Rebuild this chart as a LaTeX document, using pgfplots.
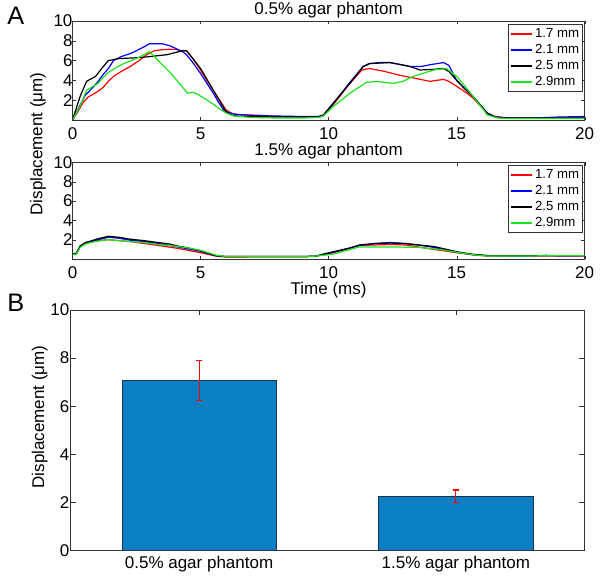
\documentclass[border=0pt]{standalone}
\usepackage{pgfplots}
\pgfplotsset{compat=1.18}
\usepackage{pgfplotstable}
\usepackage{fontspec}
\setmainfont{Liberation Sans}
\definecolor{mred}{rgb}{1,0,0}
\definecolor{mblue}{rgb}{0,0,1}
\definecolor{mgreen}{rgb}{0.1,0.9,0.1}
\definecolor{barblue}{RGB}{12,126,195}
\definecolor{baredge}{RGB}{30,50,75}

\pgfplotstableread{
x y e
1 7.07 0.85
2 2.25 0.26
}\bardata

\pgfplotsset{
  mystyle/.style={
    scale only axis,
    anchor=south west,
    axis line style={black!80},
    tick style={black!80},
    tick align=inside,
    /pgf/number format/assume math mode=true,
    every tick label/.append style={font=\fontsize{12.75}{14}\selectfont},
    title style={anchor=base, yshift=-1pt, font=\fontsize{12.75}{14}\selectfont},
  },
  lineaxis/.style={
    mystyle,
    width=384.15pt,
    xmin=0, xmax=20, ymin=0, ymax=10,
    xtick={0,5,10,15,20},
    ytick={2,4,6,8,10},
    major tick length=2.5pt,
    xticklabel style={yshift=-2pt},
    yticklabel style={xshift=3.5pt},
    legend cell align=left,
    legend style={at={(1,1)}, anchor=north east, xshift=-1.5pt, yshift=-2.25pt,
      font=\fontsize{9.9}{12}\selectfont, draw=black!80, inner sep=1pt,
      row sep=0pt, nodes={inner sep=1.5pt, text height=7.4pt, text depth=1.6pt}},
  },
}

\begin{document}
\begin{tikzpicture}
\useasboundingbox (0,0) rectangle (450pt,432.75pt);

% ---------- Panel A, top ----------
\begin{axis}[lineaxis, at={(54.375pt,342.75pt)}, height=74.25pt,
  title={0.5\% agar phantom},
  legend image code/.code={\draw[#1, line width=1.6pt] (0pt,0pt) -- (16pt,0pt);}]
\addplot[mred, line width=0.9pt] coordinates {(0,0) (0.2,0.8) (0.4,1.7) (0.6,2.3) (0.8,2.6) (1.0,2.9) (1.2,3.3) (1.4,3.9) (1.6,4.4) (1.9,4.9) (2.25,5.4) (2.6,6.0) (2.9,6.6) (3.2,7.0) (3.5,7.1) (3.8,7.15) (4.1,7.1) (4.2,7.0) (4.45,7.0) (4.7,6.2) (5.0,5.05) (5.25,4.0) (5.5,3.0) (5.75,2.0) (6.0,1.0) (6.2,0.7) (6.4,0.55) (7.0,0.5) (7.5,0.45) (8.0,0.35) (9.0,0.3) (9.6,0.3) (9.8,0.5) (10.2,1.6) (10.8,3.6) (11.3,5.05) (11.6,5.2) (12.2,4.9) (12.8,4.5) (13.4,4.2) (13.96,3.9) (14.2,4.0) (14.5,4.1) (14.7,3.9) (15.0,3.4) (15.3,2.9) (15.65,2.2) (16.0,1.2) (16.2,0.7) (16.5,0.35) (17,0.2) (18,0.2) (19,0.2) (20,0.2)};
\addlegendentry{1.7 mm}
\addplot[mblue, line width=0.9pt] coordinates {(0,0) (0.2,1.0) (0.5,2.5) (0.8,3.3) (1.0,3.9) (1.2,4.6) (1.4,5.2) (1.6,6.0) (1.9,6.4) (2.25,6.7) (2.5,7.0) (2.8,7.4) (3.0,7.7) (3.5,7.7) (3.8,7.5) (4.05,7.2) (4.3,6.9) (4.45,6.6) (4.7,5.8) (5.0,4.7) (5.25,3.7) (5.5,2.7) (5.7,1.8) (5.9,1.0) (6.1,0.75) (6.3,0.6) (7.0,0.45) (8.0,0.4) (9.0,0.35) (9.6,0.35) (9.8,0.5) (10.2,1.7) (10.8,3.7) (11.35,5.4) (11.6,5.7) (12.0,5.8) (12.4,5.8) (12.8,5.6) (13.2,5.4) (13.6,5.4) (14.0,5.6) (14.5,5.8) (14.7,5.5) (15.0,4.0) (15.3,3.2) (15.65,2.35) (16.0,1.3) (16.2,0.7) (16.5,0.3) (17,0.2) (18,0.2) (19,0.3) (20,0.35)};
\addlegendentry{2.1 mm}
\addplot[black, line width=0.9pt] coordinates {(0,0) (0.15,1.2) (0.3,2.4) (0.55,3.9) (0.9,4.4) (1.2,5.4) (1.4,6.0) (1.8,6.2) (2.2,6.25) (2.6,6.3) (3.0,6.4) (3.35,6.5) (3.7,6.6) (4.0,6.8) (4.3,7.0) (4.45,7.0) (4.7,6.2) (5.0,5.2) (5.25,4.1) (5.5,3.0) (5.75,1.9) (6.0,0.8) (6.2,0.5) (6.4,0.4) (7.0,0.35) (8.0,0.3) (9.0,0.3) (9.6,0.3) (9.8,0.5) (10.18,1.7) (10.83,3.7) (11.35,5.4) (11.6,5.7) (12.0,5.75) (12.4,5.8) (12.8,5.6) (13.18,5.4) (13.57,5.05) (14.0,5.1) (14.48,5.2) (14.7,4.9) (15.0,4.0) (15.3,3.2) (15.65,2.35) (16.0,1.3) (16.17,0.7) (16.5,0.3) (17,0.2) (18,0.2) (19,0.2) (20,0.2)};
\addlegendentry{2.5 mm}
\addplot[mgreen, line width=0.9pt] coordinates {(0,0) (0.3,1.4) (0.55,3.0) (0.8,3.4) (1.0,3.7) (1.2,4.3) (1.4,4.8) (1.7,5.3) (2.0,5.7) (2.3,6.0) (2.65,6.4) (3.0,6.9) (3.2,6.4) (3.5,5.6) (3.85,4.7) (4.2,3.6) (4.5,2.7) (4.7,2.8) (4.85,2.65) (5.2,2.1) (5.5,1.6) (5.75,1.1) (6.0,0.7) (6.3,0.4) (7.0,0.25) (8.0,0.2) (9.0,0.2) (9.6,0.25) (9.8,0.4) (10.18,1.35) (10.83,2.7) (11.48,3.8) (11.87,3.9) (12.52,3.7) (12.9,3.9) (13.3,4.4) (14.1,5.05) (14.6,5.2) (15.0,4.4) (15.3,3.5) (15.65,2.35) (16.0,1.2) (16.2,0.5) (16.6,0.2) (17,0.15) (18,0.15) (19,0.15) (20,0.15)};
\addlegendentry{2.9mm}
\end{axis}

% ---------- Panel A, bottom ----------
\begin{axis}[lineaxis, at={(54.375pt,238.5pt)}, height=72.5pt,
  title={1.5\% agar phantom},
  legend image code/.code={\draw[#1, line width=1.3pt] (0pt,0pt) -- (16pt,0pt);},
  xlabel={Time (ms)},
  xlabel style={at={(axis description cs:0.5,0)}, anchor=base, yshift=-27pt, font=\fontsize{12.75}{14}\selectfont}]
\addplot[mred, line width=0.9pt] coordinates {(0,0.5) (0.15,0.55) (0.3,1.3) (0.5,1.6) (0.7,1.75) (1.0,1.9) (1.4,2.0) (1.8,1.9) (2.25,1.8) (2.8,1.6) (3.35,1.4) (4.1,1.1) (4.5,0.9) (5.0,0.65) (5.6,0.3) (6,0.2) (7,0.22) (8,0.22) (9,0.22) (9.5,0.28) (10.18,0.65) (11.2,1.4) (12.4,1.5) (13.0,1.45) (13.6,1.2) (14.1,1.0) (15.0,0.65) (15.6,0.45) (16.2,0.3) (17,0.3) (18,0.3) (19,0.3) (20,0.3)};
\addlegendentry{1.7 mm}
\addplot[mblue, line width=0.9pt] coordinates {(0,0.5) (0.15,0.55) (0.3,1.3) (0.5,1.65) (0.7,1.8) (1.0,2.0) (1.4,2.25) (1.8,2.15) (2.25,1.95) (2.8,1.8) (3.35,1.6) (4.1,1.25) (4.5,1.05) (5.0,0.8) (5.3,0.55) (5.6,0.35) (6,0.25) (7,0.25) (8,0.25) (9,0.25) (9.5,0.3) (10.18,0.7) (11.2,1.4) (11.8,1.6) (12.4,1.7) (13.0,1.6) (13.5,1.45) (14.1,1.2) (15.0,0.7) (15.6,0.45) (16.2,0.35) (17.5,0.3) (18.5,0.38) (19,0.33) (20,0.35)};
\addlegendentry{2.1 mm}
\addplot[black, line width=0.9pt] coordinates {(0,0.5) (0.15,0.6) (0.3,1.35) (0.5,1.7) (0.7,1.85) (1.0,2.1) (1.4,2.35) (1.8,2.25) (2.25,2.05) (2.8,1.9) (3.35,1.7) (3.8,1.55) (4.1,1.35) (4.5,1.15) (5.0,0.85) (5.3,0.6) (5.6,0.35) (6.0,0.25) (7,0.25) (8,0.25) (9,0.25) (9.5,0.3) (10.18,0.75) (10.8,1.1) (11.2,1.45) (11.8,1.6) (12.4,1.65) (13.0,1.6) (13.5,1.45) (14.1,1.3) (14.6,1.0) (15.0,0.75) (15.6,0.5) (16.2,0.35) (17,0.35) (18,0.35) (19,0.35) (20,0.35)};
\addlegendentry{2.5 mm}
\addplot[mgreen, line width=0.9pt] coordinates {(0,0.45) (0.15,0.5) (0.3,1.2) (0.5,1.55) (0.7,1.7) (1.0,1.85) (1.4,2.0) (1.8,1.9) (2.25,1.8) (2.8,1.7) (3.35,1.5) (4.1,1.3) (4.5,1.15) (5.0,0.9) (5.3,0.65) (5.6,0.4) (6,0.25) (7,0.25) (8,0.25) (9,0.25) (9.5,0.3) (10.18,0.5) (11.2,1.25) (12.4,1.25) (13.5,1.2) (14.3,1.0) (15.0,0.7) (15.6,0.45) (16.2,0.3) (17,0.3) (18,0.32) (19,0.35) (20,0.35)};
\addlegendentry{2.9mm}
\end{axis}

% ---------- Panel B ----------
\begin{axis}[mystyle, at={(53pt,20pt)}, width=385.2pt, height=180.2pt,
  xmin=0.5, xmax=2.5, ymin=0, ymax=10,
  xtick={1,2}, xticklabels={0.5\% agar phantom, 1.5\% agar phantom},
  ytick={0,2,4,6,8,10},
  major tick length=3.75pt,
  xticklabel style={yshift=-1pt},
  yticklabel style={xshift=2.5pt},
  ylabel={Displacement (μm)},
  ylabel style={at={(axis description cs:-0.06,0.555)}, anchor=center, rotate=0, font=\fontsize{12.75}{14}\selectfont}]
\addplot[ybar, bar width=0.6, fill=barblue, draw=baredge, line width=0.5pt,
  error bars/.cd, y dir=both, y explicit,
  error bar style={red, line width=0.8pt},
  error mark options={red, rotate=90, mark size=2pt, line width=0.8pt}]
  table[x=x, y=y, y error=e] {\bardata};
\end{axis}

% ---------- labels ----------
\node[anchor=base west, inner sep=0pt, font=\fontsize{19}{20}\selectfont] at (5.25pt,414pt) {A};
\node[anchor=base west, inner sep=0pt, font=\fontsize{19}{20}\selectfont] at (5.25pt,198.75pt) {B};
\node[rotate=90, inner sep=0pt, font=\fontsize{12.75}{14}\selectfont] at (28.5pt,324.75pt) {Displacement (μm)};
\end{tikzpicture}
\end{document}
